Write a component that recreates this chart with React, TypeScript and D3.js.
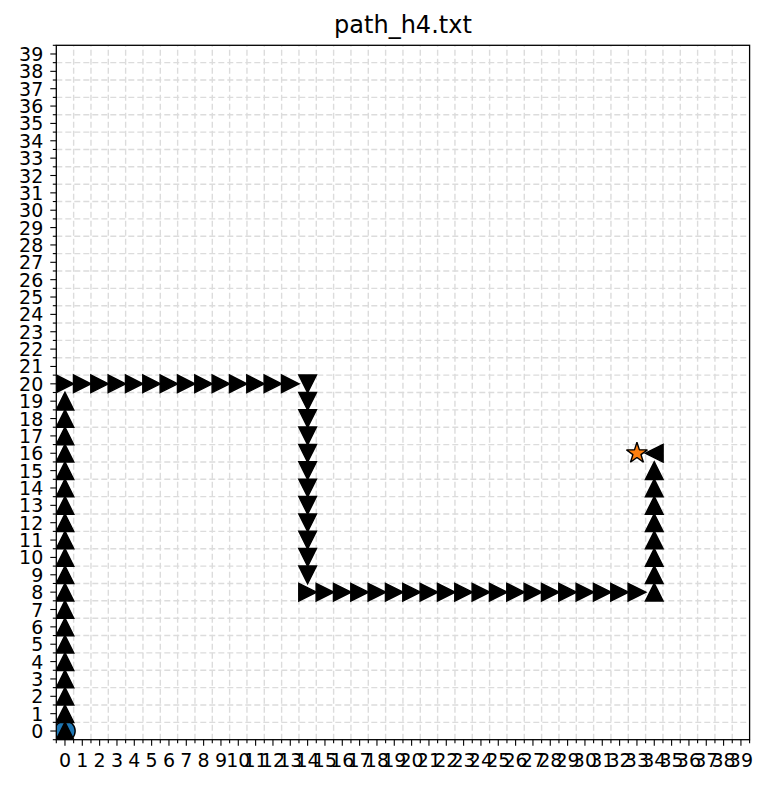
import React from "react";
import * as d3 from "d3";

const TITLE = "path_h4.txt";

// Path points (x, y) in grid coordinates, in walking order
const pathX = [
  0, 0, 0, 0, 0, 0, 0, 0, 0, 0, 0, 0, 0, 0, 0, 0, 0, 0, 0, 0, 0,
  1, 2, 3, 4, 5, 6, 7, 8, 9, 10, 11, 12, 13, 14,
  14, 14, 14, 14, 14, 14, 14, 14, 14, 14, 14, 14,
  15, 16, 17, 18, 19, 20, 21, 22, 23, 24, 25, 26, 27, 28, 29, 30, 31, 32, 33, 34,
  34, 34, 34, 34, 34, 34, 34, 34,
  33,
];
const pathY = [
  0, 1, 2, 3, 4, 5, 6, 7, 8, 9, 10, 11, 12, 13, 14, 15, 16, 17, 18, 19, 20,
  20, 20, 20, 20, 20, 20, 20, 20, 20, 20, 20, 20, 20, 20,
  19, 18, 17, 16, 15, 14, 13, 12, 11, 10, 9, 8,
  8, 8, 8, 8, 8, 8, 8, 8, 8, 8, 8, 8, 8, 8, 8, 8, 8, 8, 8, 8,
  9, 10, 11, 12, 13, 14, 15, 16,
  16,
];

const startPoint = [0, 0];
const goalPoint = [33, 16];

const majorTicks = [
  0, 1, 2, 3, 4, 5, 6, 7, 8, 9, 10, 11, 12, 13, 14, 15, 16, 17, 18, 19,
  20, 21, 22, 23, 24, 25, 26, 27, 28, 29, 30, 31, 32, 33, 34, 35, 36, 37, 38, 39,
];
const minorTicks = majorTicks.map((t) => t + 0.5).concat([-0.5]);
const gridLines = majorTicks.slice(0, 39).map((t) => t + 0.5);

const W = 768;
const H = 789;
const LEFT = 56.3;
const RIGHT = 749.6;
const TOP = 45.3;
const BOTTOM = 739.7;
const FONT = "'DejaVu Sans', sans-serif";

function triPath(dx: number, dy: number, h: number) {
  if (dx > 0) return `M${h},0L${-h},${-h}L${-h},${h}Z`;
  if (dx < 0) return `M${-h},0L${h},${-h}L${h},${h}Z`;
  if (dy > 0) return `M0,${-h}L${-h},${h}L${h},${h}Z`; // up in data
  return `M0,${h}L${-h},${-h}L${h},${-h}Z`; // down in data
}

function starPath(R: number) {
  const r = R * 0.381966;
  const pts: string[] = [];
  for (let i = 0; i < 10; i++) {
    const a = -Math.PI / 2 + (i * Math.PI) / 5;
    const rad = i % 2 === 0 ? R : r;
    pts.push(`${(rad * Math.cos(a)).toFixed(2)},${(rad * Math.sin(a)).toFixed(2)}`);
  }
  return "M" + pts.join("L") + "Z";
}

export default function App() {
  const x = d3.scaleLinear().domain([-0.5, 39.5]).range([LEFT, RIGHT]);
  const y = d3.scaleLinear().domain([-0.5, 39.5]).range([BOTTOM, TOP]);

  const markers = pathX.slice(0, pathX.length - 1).map((px, i) => ({
    px,
    py: pathY[i],
    dx: pathX[i + 1] - px,
    dy: pathY[i + 1] - pathY[i],
  }));

  return (
    <div style={{ position: "absolute", left: 0, top: 0 }}>
      <svg width={W} height={H} style={{ display: "block", background: "#fff" }}>
        <defs>
          <clipPath id="plotclip">
            <rect x={LEFT} y={TOP} width={RIGHT - LEFT} height={BOTTOM - TOP} />
          </clipPath>
        </defs>
        <rect x={0} y={0} width={W} height={H} fill="#fff" />
        {/* grid */}
        <g stroke="#dcdcdc" strokeWidth={1.4} strokeDasharray="6,3" fill="none">
          {gridLines.map((g) => (
            <line key={"gv" + g} x1={x(g)} x2={x(g)} y1={BOTTOM} y2={TOP} />
          ))}
          {gridLines.map((g) => (
            <line key={"gh" + g} x1={LEFT} x2={RIGHT} y1={y(g)} y2={y(g)} />
          ))}
        </g>
        {/* markers */}
        <g clipPath="url(#plotclip)">
          <circle
            cx={x(startPoint[0])}
            cy={y(startPoint[1])}
            r={10.2}
            fill="#1f77b4"
            stroke="#000"
            strokeWidth={1.4}
          />
          {markers.map((m, i) => (
            <path
              key={"m" + i}
              d={triPath(m.dx, m.dy, 8.8)}
              transform={`translate(${x(m.px)},${y(m.py)})`}
              fill="#000"
              stroke="#000"
              strokeWidth={1.5}
              strokeLinejoin="miter"
            />
          ))}
          <path
            d={starPath(11)}
            transform={`translate(${x(goalPoint[0])},${y(goalPoint[1])})`}
            fill="#ff7f0e"
            stroke="#000"
            strokeWidth={1.4}
            strokeLinejoin="bevel"
          />
        </g>
        {/* spines */}
        <rect
          x={LEFT}
          y={TOP}
          width={RIGHT - LEFT}
          height={BOTTOM - TOP}
          fill="none"
          stroke="#000"
          strokeWidth={1.3}
        />
        {/* ticks */}
        <g stroke="#000" strokeWidth={1.1}>
          {majorTicks.map((t) => (
            <line key={"xt" + t} x1={x(t)} x2={x(t)} y1={BOTTOM} y2={BOTTOM + 6} />
          ))}
          {minorTicks.map((t) => (
            <line key={"xm" + t} x1={x(t)} x2={x(t)} y1={BOTTOM} y2={BOTTOM + 3.5} />
          ))}
          {majorTicks.map((t) => (
            <line key={"yt" + t} x1={LEFT - 6} x2={LEFT} y1={y(t)} y2={y(t)} />
          ))}
          {minorTicks.map((t) => (
            <line key={"ym" + t} x1={LEFT - 3.5} x2={LEFT} y1={y(t)} y2={y(t)} />
          ))}
        </g>
        <g fontFamily={FONT} fontSize={19} fill="#000">
          {majorTicks.map((t) => (
            <text key={"xl" + t} x={x(t)} y={BOTTOM + 13} textAnchor="middle" dominantBaseline="hanging">
              {String(t)}
            </text>
          ))}
          {majorTicks.map((t) => (
            <text key={"yl" + t} x={LEFT - 13} y={y(t)} textAnchor="end" dominantBaseline="central">
              {String(t)}
            </text>
          ))}
        </g>
        <text
          x={(LEFT + RIGHT) / 2}
          y={33}
          textAnchor="middle"
          fontFamily={FONT}
          fontSize={24}
          fill="#000"
        >
          {TITLE}
        </text>
      </svg>
    </div>
  );
}
